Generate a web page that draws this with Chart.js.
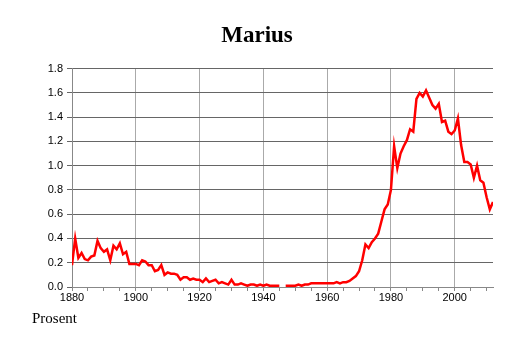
<!DOCTYPE html>
<html lang="no">
<head>
    <meta charset="UTF-8">
    <title>Marius</title>
    <script src="https://cdn.jsdelivr.net/npm/chart.js"></script>
    <style>
        html, body {
            margin: 0;
            padding: 0;
            background: white;
        }
        .chart-container {
            width: 514px;
            height: 343px;
        }
    </style>
</head>
<body>
    <div class="chart-container">
        <canvas id="nameChart"></canvas>
    </div>

    <script>
        var chartTitle = 'Marius';
        var yAxisLabel = 'Prosent';
        var firstYear = 1880;
        var lastYear = 2012;

        // percent per year, 1880 - 2012 (null = no data)
        var percent = [
            0.18, 0.40, 0.24, 0.28, 0.23, 0.22, 0.25, 0.26, 0.38, 0.32,   // 1880
            0.29, 0.31, 0.22, 0.34, 0.31, 0.36, 0.27, 0.29, 0.19, 0.19,   // 1890
            0.19, 0.18, 0.22, 0.21, 0.18, 0.18, 0.13, 0.14, 0.18, 0.10,   // 1900
            0.12, 0.11, 0.11, 0.10, 0.06, 0.08, 0.08, 0.06, 0.07, 0.06,   // 1910
            0.06, 0.04, 0.07, 0.04, 0.05, 0.06, 0.03, 0.04, 0.03, 0.02,   // 1920
            0.06, 0.02, 0.02, 0.03, 0.02, 0.01, 0.02, 0.02, 0.01, 0.02,   // 1930
            0.01, 0.02, 0.01, 0.01, 0.01, 0.01, null, 0.01, 0.01, 0.01,   // 1940
            0.01, 0.02, 0.01, 0.02, 0.02, 0.03, 0.03, 0.03, 0.03, 0.03,   // 1950
            0.03, 0.03, 0.03, 0.04, 0.03, 0.04, 0.04, 0.05, 0.07, 0.09,   // 1960
            0.13, 0.22, 0.35, 0.32, 0.37, 0.40, 0.44, 0.54, 0.64, 0.68,   // 1970
            0.80, 1.16, 0.98, 1.10, 1.16, 1.21, 1.30, 1.28, 1.55, 1.60,   // 1980
            1.57, 1.62, 1.56, 1.50, 1.47, 1.51, 1.36, 1.37, 1.28, 1.26,   // 1990
            1.29, 1.39, 1.17, 1.03, 1.03, 1.01, 0.90, 1.00, 0.88, 0.86,   // 2000
            0.74, 0.64, 0.70                                              // 2010
        ];

        var years = [];
        for (var y = firstYear; y <= lastYear; y++) {
            years.push(y);
        }

        var points = years.map(function(year, i) {
            return { x: year, y: percent[i] };
        });

        // "Prosent" under the axis, left side
        var bottomLabel = {
            id: 'bottomLabel',
            afterDraw: function(chart) {
                var ctx = chart.ctx;
                ctx.save();
                ctx.font = '15px "Liberation Serif", serif';
                ctx.fillStyle = 'black';
                ctx.textBaseline = 'alphabetic';
                ctx.fillText(yAxisLabel, 32, 323);
                ctx.restore();
            }
        };

        var ctx = document.getElementById('nameChart').getContext('2d');
        var nameChart = new Chart(ctx, {
            type: 'line',
            data: {
                datasets: [{
                    label: chartTitle,
                    data: points,
                    borderColor: '#ff0000',
                    borderWidth: 2.5,
                    pointRadius: 0,
                    tension: 0,
                    spanGaps: false,
                    fill: false
                }]
            },
            options: {
                responsive: true,
                maintainAspectRatio: false,
                animation: false,
                layout: {
                    padding: { left: 21, right: 21, top: 0, bottom: 38 }
                },
                plugins: {
                    legend: { display: false },
                    tooltip: { enabled: false },
                    title: {
                        display: true,
                        text: chartTitle,
                        color: 'black',
                        font: { family: '"Liberation Serif", serif', size: 23, weight: 'bold' },
                        padding: { top: 22, bottom: 19 }
                    }
                },
                scales: {
                    x: {
                        type: 'linear',
                        min: firstYear,
                        max: lastYear,
                        afterFit: function(scale) { scale.height = 18; },
                        border: { color: '#888' },
                        grid: {
                            color: function(c) {
                                return c.tick && c.tick.value % 20 === 0 ? '#aaa' : 'rgba(0,0,0,0)';
                            },
                            tickColor: '#888',
                            tickLength: 4
                        },
                        ticks: {
                            stepSize: 5,
                            includeBounds: false,
                            autoSkip: false,
                            maxRotation: 0,
                            padding: 0,
                            color: 'black',
                            font: { family: '"Liberation Sans", sans-serif', size: 11 },
                            callback: function(value) {
                                return value % 20 === 0 ? String(value) : '';
                            }
                        }
                    },
                    y: {
                        min: 0,
                        max: 1.8,
                        afterFit: function(scale) { scale.width = 51; },
                        border: { color: '#888' },
                        grid: {
                            color: '#666',
                            tickColor: '#666',
                            tickLength: 5
                        },
                        ticks: {
                            stepSize: 0.2,
                            padding: 4,
                            color: 'black',
                            font: { family: '"Liberation Sans", sans-serif', size: 11 },
                            callback: function(value) {
                                return value.toFixed(1);
                            }
                        }
                    }
                }
            },
            plugins: [bottomLabel]
        });
    </script>
</body>
</html>
